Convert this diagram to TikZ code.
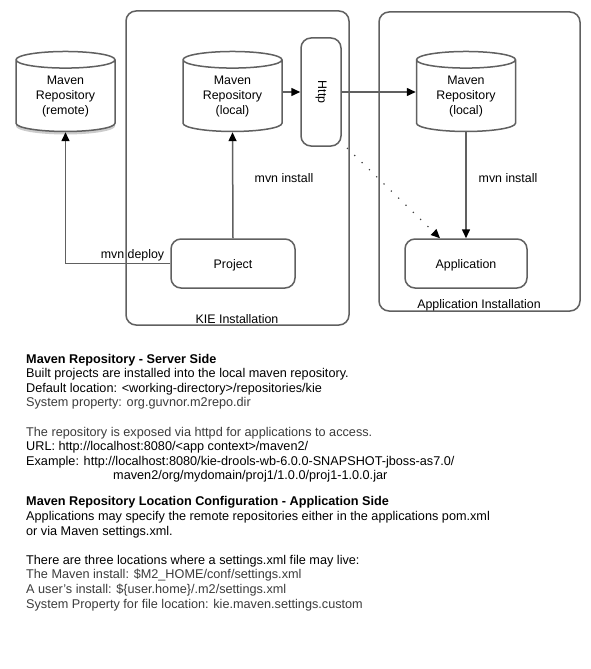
\documentclass[tikz,border=0pt]{standalone}
\usepackage{fontspec}
\setmainfont{Liberation Sans}
\usetikzlibrary{arrows.meta,shapes.geometric,shadows}
\definecolor{edge}{HTML}{606060}
\definecolor{soft}{HTML}{3C3C3C}
\newcommand{\repoph}{\phantom{Maven}\\\phantom{Repository}\\\phantom{(local)}}
\tikzset{
  x=1pt,y=-1pt,
  repo/.style={cylinder,shape border rotate=90,shape aspect=.28,draw=edge,line width=1.5pt,fill=white,
    minimum width=99pt,minimum height=80pt,inner sep=0pt,align=center,font=\fontsize{12.4}{15}\selectfont},
  box/.style={draw=edge,line width=1.5pt,rounded corners=10pt,fill=white,inner sep=0pt,text height=9pt,text depth=0pt,font=\fontsize{12.4}{15}\selectfont,text=black},
  frame/.style={draw=edge,line width=1.5pt,rounded corners=10pt,inner sep=0pt},
  flow/.style={draw=edge,line width=1.5pt,-{Triangle[length=9pt,width=8pt,color=black]}},
  dots/.style={draw=edge!70!black,line width=1.2pt,dash pattern=on 1.2pt off 9pt,-{Triangle[length=9pt,width=8pt,color=black]}},
  lbl/.style={inner sep=0pt,font=\fontsize{12.4}{15}\selectfont,text=black},
  repotext/.style={lbl,align=center},
  txt/.style={anchor=base west,inner sep=0pt,font=\fontsize{12.68}{15}\selectfont,text=black},
  gtxt/.style={txt,text=soft},
  btxt/.style={txt,font=\fontsize{12.68}{15}\selectfont\bfseries},
}
\begin{document}
\begin{tikzpicture}
\useasboundingbox (0,0) rectangle (591,669);
\fill[white] (0,0) rectangle (591,669);
\node[frame,minimum width=223pt,minimum height=314pt] (kie) at (237.5,168) {};
\node[frame,minimum width=201pt,minimum height=299pt] (appbox) at (479.5,161.5) {};
\node[repo,drop shadow={shadow xshift=0pt,shadow yshift=-3pt,opacity=.4}] (remote) at (65.5,96) {\repoph};
\node[repo] (local) at (232.5,96) {\repoph};
\node[repo] (applocal) at (466,96) {\repoph};
\node[repotext] (remotel) at (65.5,97) {Maven\\Repository\\(remote)};
\node[repotext] (locall) at (232.5,97) {Maven\\Repository\\(local)};
\node[repotext] (applocall) at (466,97) {Maven\\Repository\\(local)};
\node[box,minimum width=40pt,minimum height=108pt] (http) at (321,92) {};
\node[lbl,rotate=-90] (httpl) at (321,92) {Http};
\node[box,minimum width=124pt,minimum height=49pt] (project) at (233,263.5) {Project};
\node[box,minimum width=122pt,minimum height=49pt] (application) at (466,263.5) {Application};
\coordinate (dotstart) at (347,148);
\coordinate (bend) at (remote.south |- project.west);
\draw[flow] (project.west) -- (bend) -- (remote.south);
\draw[flow] (project.north) -- (local.south);
\draw[flow] (local.east |- http.west) -- (http.west);
\draw[flow] (http.east) -- (applocal.west |- http.east);
\draw[flow] (applocal.south) -- (application.north);
\draw[dots] (dotstart) -- ([xshift=-26pt]application.north);
\node[lbl] (l1) at (284,178.5) {mvn install};
\node[lbl] (l2) at (508,178.5) {mvn install};
\node[lbl] (l3) at (132.5,255) {mvn deploy};
\node[lbl] (l4) at (237,319) {KIE Installation};
\node[lbl] (l5) at (479,305.5) {Application Installation};
\node[btxt] (t1) at (26,363) {Maven Repository - Server Side};
\node[txt] (t2) at (26,377) {Built projects are installed into the local maven repository.};
\node[txt] (t3) at (26,392) {Default location: <working-directory>/repositories/kie};
\node[gtxt] (t4) at (26,406) {System property: org.guvnor.m2repo.dir};
\node[gtxt] (t5) at (26,436) {The repository is exposed via httpd for applications to access.};
\node[txt] (t6) at (26,450) {URL: http://localhost:8080/<app context>/maven2/};
\node[txt] (t7) at (26,465) {Example: http://localhost:8080/kie-drools-wb-6.0.0-SNAPSHOT-jboss-as7.0/};
\node[txt] (t8) at (113,479) {maven2/org/mydomain/proj1/1.0.0/proj1-1.0.0.jar};
\node[btxt] (t9) at (26,505) {Maven Repository Location Configuration - Application Side};
\node[txt] (t10) at (26,520) {Applications may specify the remote repositories either in the applications pom.xml};
\node[txt] (t11) at (26,535) {or via Maven settings.xml.};
\node[txt] (t12) at (26,564) {There are three locations where a settings.xml file may live:};
\node[gtxt] (t13) at (26,578) {The Maven install: \$M2\_HOME/conf/settings.xml};
\node[gtxt] (t14) at (26,593) {A user's install: \$\{user.home\}/.m2/settings.xml};
\node[gtxt] (t15) at (26,608) {System Property for file location: kie.maven.settings.custom};
\end{tikzpicture}
\end{document}
